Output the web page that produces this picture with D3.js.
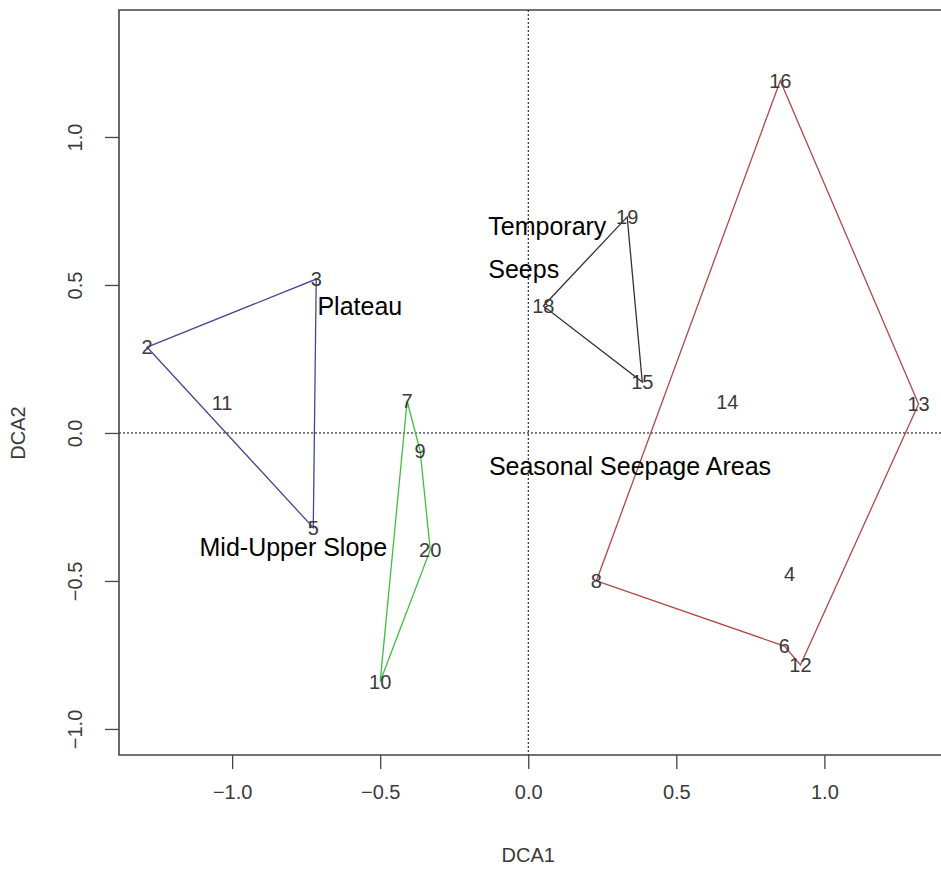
<!DOCTYPE html>
<html>
<head>
<meta charset="utf-8">
<script src="https://cdn.jsdelivr.net/npm/d3@7"></script>
<style>
  html, body { margin: 0; padding: 0; background: #fff; }
  svg { display: block; }
</style>
</head>
<body>
<script>
// DCA site scores (axis 1, axis 2)
const siteIds = ["2", "3", "5", "11", "7", "9", "20", "10", "16", "19", "18", "15", "14", "13", "8", "4", "6", "12"];
const dca1 = [-1.287, -0.716, -0.726, -1.034, -0.409, -0.365, -0.331, -0.500, 0.851, 0.334, 0.051, 0.385, 0.672, 1.318, 0.230, 0.882, 0.865, 0.919];
const dca2 = [0.290, 0.520, -0.320, 0.101, 0.108, -0.061, -0.395, -0.840, 1.190, 0.730, 0.429, 0.172, 0.105, 0.098, -0.500, -0.476, -0.720, -0.784];

// Hull outlines for each habitat group (site ids in drawing order)
const groupNames = ["Plateau", "Mid-Upper Slope", "Temporary Seeps", "Seasonal Seepage Areas"];
const groupHulls = [["2", "3", "5"], ["7", "9", "20", "10"], ["19", "15", "18"], ["16", "13", "12", "6", "8"]];
const groupColors = ["#45458f", "#3fbf3f", "#333333", "#b04848"];

// Free-standing group captions: text lines and anchor (data coordinates)
const captionLines = [["Plateau"], ["Mid-Upper Slope"], ["Temporary", "Seeps"], ["Seasonal Seepage Areas"]];
const captionX = [-0.712, -1.110, -0.135, -0.133];
const captionY = [0.430, -0.385, 0.700, -0.112];

const xTicks = [-1.0, -0.5, 0.0, 0.5, 1.0];
const yTicks = [-1.0, -0.5, 0.0, 0.5, 1.0];
const xTitle = "DCA1";
const yTitle = "DCA2";

const W = 941, H = 873;
const plot = { left: 119, top: 10, right: 947, bottom: 755 };

const x = d3.scaleLinear().domain([-1.382, 1.414]).range([plot.left, plot.right]);
const y = d3.scaleLinear().domain([-1.088, 1.429]).range([plot.bottom, plot.top]);

const svg = d3.select("body").append("svg").attr("width", W).attr("height", H);
const font = "'Liberation Sans', Arial, sans-serif";
const tickGray = "#3a3a3a";

// Reference lines through the origin
svg.append("line")
  .attr("x1", x(0)).attr("x2", x(0)).attr("y1", plot.top).attr("y2", plot.bottom)
  .attr("stroke", "#000").attr("stroke-width", 1).attr("stroke-dasharray", "2,2");
svg.append("line")
  .attr("x1", plot.left).attr("x2", plot.right).attr("y1", y(0)).attr("y2", y(0))
  .attr("stroke", "#000").attr("stroke-width", 1).attr("stroke-dasharray", "2,2");

// Group hulls
const pos = {};
siteIds.forEach((id, i) => { pos[id] = [dca1[i], dca2[i]]; });
const line = d3.line().x(d => x(d[0])).y(d => y(d[1])).curve(d3.curveLinearClosed);
svg.append("g").selectAll("path")
  .data(groupHulls)
  .join("path")
  .attr("d", ids => line(ids.map(id => pos[id])))
  .attr("fill", "none")
  .attr("stroke", (d, i) => groupColors[i])
  .attr("stroke-width", 1.3);

// Site labels
svg.append("g").selectAll("text")
  .data(siteIds)
  .join("text")
  .attr("x", (d, i) => x(dca1[i]))
  .attr("y", (d, i) => y(dca2[i]))
  .attr("dy", "0.36em")
  .attr("text-anchor", "middle")
  .attr("font-family", font)
  .attr("font-size", 20)
  .attr("fill", tickGray)
  .text(d => d);

// Group captions
captionLines.forEach((lines, i) => {
  const t = svg.append("text")
    .attr("font-family", font)
    .attr("font-size", 25)
    .attr("fill", "#000");
  lines.forEach((s, j) => {
    t.append("tspan")
      .attr("x", x(captionX[i]))
      .attr("y", y(captionY[i]) + j * 43)
      .attr("dy", "0.36em")
      .text(s);
  });
});

// Plot frame (left, top, bottom; right side runs past the page edge)
svg.append("path")
  .attr("d", `M${plot.right},${plot.top}H${plot.left}V${plot.bottom}H${plot.right}`)
  .attr("fill", "none").attr("stroke", "#444").attr("stroke-width", 1.6);

// Axes
const xAxis = d3.axisBottom(x).tickValues(xTicks).tickFormat(d3.format(".1f")).tickSize(14).tickPadding(16);
const gx = svg.append("g").attr("transform", `translate(0,${plot.bottom})`).call(xAxis);
gx.select(".domain").remove();
gx.selectAll(".tick line").attr("stroke", "#444").attr("stroke-width", 1.3);
gx.selectAll(".tick text").attr("font-family", font).attr("font-size", 20).attr("fill", tickGray);

const yAxis = d3.axisLeft(y).tickValues(yTicks).tickFormat(d3.format(".1f")).tickSize(14);
const gy = svg.append("g").attr("transform", `translate(${plot.left},0)`).call(yAxis);
gy.select(".domain").remove();
gy.selectAll(".tick line").attr("stroke", "#444").attr("stroke-width", 1.3);
gy.selectAll(".tick text")
  .attr("font-family", font).attr("font-size", 20).attr("fill", tickGray)
  .attr("x", null).attr("dy", null)
  .attr("text-anchor", "middle")
  .attr("transform", "translate(-44,0) rotate(-90)")
  .attr("y", 0).attr("dy", "0.36em");

// Axis titles
svg.append("text")
  .attr("x", x(0)).attr("y", 855).attr("dy", "0.36em")
  .attr("text-anchor", "middle")
  .attr("font-family", font).attr("font-size", 20).attr("fill", tickGray)
  .text(xTitle);
svg.append("text")
  .attr("transform", `translate(18,${y(0)}) rotate(-90)`)
  .attr("dy", "0.36em")
  .attr("text-anchor", "middle")
  .attr("font-family", font).attr("font-size", 20).attr("fill", tickGray)
  .text(yTitle);
</script>
</body>
</html>
